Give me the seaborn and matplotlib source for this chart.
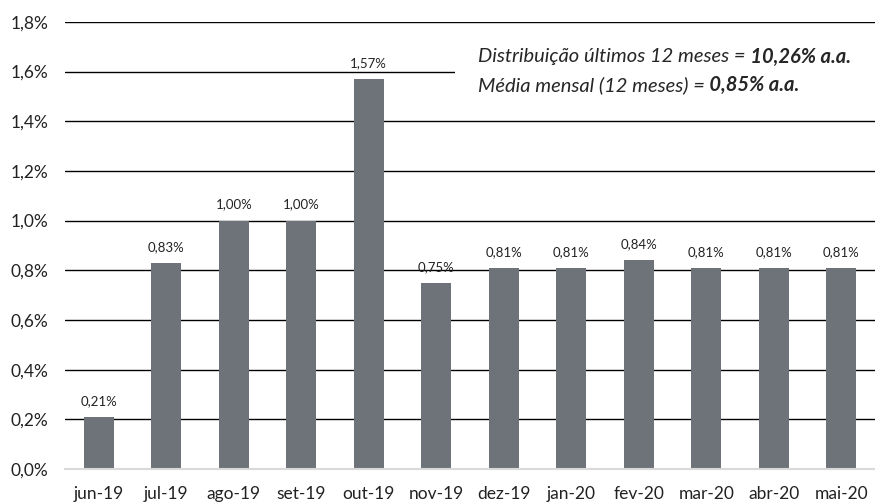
import matplotlib
matplotlib.use("Agg")
import matplotlib.pyplot as plt
from matplotlib.patches import Rectangle
import seaborn as sns
import pandas as pd

meses = ["jun-19", "jul-19", "ago-19", "set-19", "out-19", "nov-19",
         "dez-19", "jan-20", "fev-20", "mar-20", "abr-20", "mai-20"]
valores = [0.21, 0.83, 1.00, 1.00, 1.57, 0.75, 0.81, 0.81, 0.84, 0.81, 0.81, 0.81]
yticks = [0.0, 0.2, 0.4, 0.6, 0.8, 1.0, 1.2, 1.4, 1.6, 1.8]

sns.set_style("white")
plt.rcParams['font.family'] = ['Lato', 'DejaVu Sans']

df = pd.DataFrame({'Mes': meses, 'Valor': valores})

fig = plt.figure(figsize=(8.75, 5.03), dpi=100)
ax = fig.add_axes([0.0743, 0.0676, 0.9257, 0.889])

# grid lines under the bars
for t in yticks[1:]:
    ax.axhline(t, color='black', linewidth=1.0, zorder=0)

sns.barplot(x='Mes', y='Valor', data=df, color='#6d7378', width=0.44,
            saturation=1, linewidth=0, ax=ax, zorder=2)

for i, v in enumerate(valores):
    ax.text(i, v + 0.04, f"{v:.2f}%".replace('.', ','), ha='center',
            va='bottom', fontsize=9.5, color='#222222')

ax.set_xlim(-0.5, 11.5)
ax.set_ylim(0, 1.8)
ax.set_yticks(yticks)
ax.set_yticklabels([f"{t:.1f}%".replace('.', ',') for t in yticks])
ax.set_xlabel('')
ax.set_ylabel('')
ax.tick_params(axis='both', labelsize=12.5, length=0, colors='#222222')
ax.tick_params(axis='y', pad=12)
ax.tick_params(axis='x', pad=12)
for s in ['top', 'right', 'left']:
    ax.spines[s].set_visible(False)
ax.spines['bottom'].set_color('#d9d9d9')
ax.spines['bottom'].set_linewidth(1.5)

# white box behind the note (hides the 1,6% line there)
ax.add_patch(Rectangle((0.481, 0.82), 0.519, 0.13, transform=ax.transAxes,
                       facecolor='white', edgecolor='none', zorder=2.5))

fig.canvas.draw()
r = fig.canvas.get_renderer()
notas = [("Distribuição últimos 12 meses =", " 10,26% a.a.", 0.922),
         ("Média mensal (12 meses) =", " 0,85% a.a.", 0.859)]
for normal, negrito, y in notas:
    t = ax.text(0.51, y, normal, transform=ax.transAxes, fontsize=14.5,
                style='italic', va='center', ha='left', zorder=3)
    bb = t.get_window_extent(r).transformed(ax.transAxes.inverted())
    ax.text(bb.x1, y, negrito, transform=ax.transAxes, fontsize=14.5,
            style='italic', weight='bold', va='center', ha='left', zorder=3)

plt.savefig('out.png', dpi=100)
plt.close()
